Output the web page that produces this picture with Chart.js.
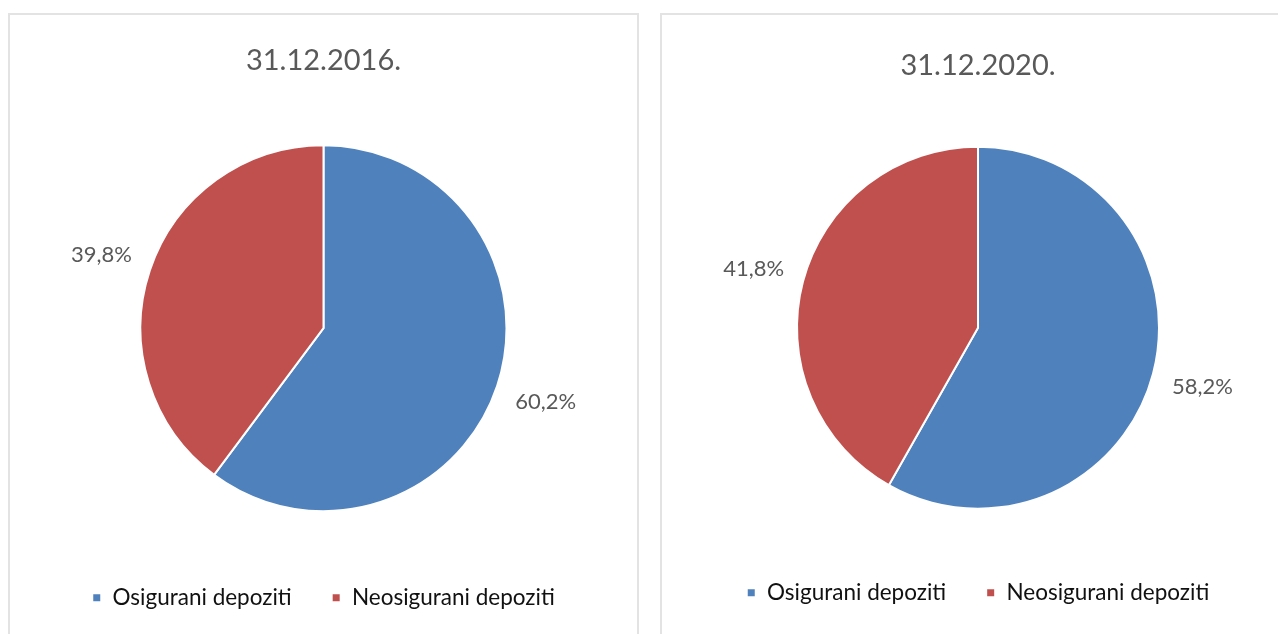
<!DOCTYPE html>
<html>
<head>
<meta charset="utf-8">
<script src="https://cdn.jsdelivr.net/npm/chart.js@4"></script>
<style>
  html, body { margin: 0; padding: 0; background: #fff; overflow: hidden; }
  body { width: 1278px; height: 634px; position: relative; }
  .panel { position: absolute; top: 13px; border: 2px solid #e3e3e3; border-bottom: none; background: #fff; }
  #p1 { left: 8px; width: 627px; height: 640px; }
  #p2 { left: 660px; width: 632px; height: 640px; }
  canvas { display: block; }
</style>
</head>
<body>
<div class="panel" id="p1"><canvas id="pie2016" width="627" height="619"></canvas></div>
<div class="panel" id="p2"><canvas id="pie2020" width="632" height="619"></canvas></div>
<script>
// kategorije i vrijednosti (u %)
const kategorije = ['Osigurani depoziti', 'Neosigurani depoziti'];
const udjeli2016 = [60.2, 39.8];
const udjeli2020 = [58.2, 41.8];
const naslovi = ['31.12.2016.', '31.12.2020.'];

const plava = '#4F81BD';
const crvena = '#C0504D';
const font = 'Lato, "Liberation Sans", sans-serif';

// ispis postotaka izvan kriški
const postociPlugin = {
    id: 'postoci',
    afterDatasetsDraw(chart) {
        const ctx = chart.ctx;
        const meta = chart.getDatasetMeta(0);
        const vrijednosti = chart.data.datasets[0].data;
        ctx.save();
        ctx.font = '22px ' + font;
        ctx.fillStyle = '#595959';
        ctx.textAlign = 'center';
        ctx.textBaseline = 'middle';
        meta.data.forEach((arc, i) => {
            const p = arc.getProps(['x', 'y', 'startAngle', 'endAngle', 'outerRadius'], true);
            const kut = (p.startAngle + p.endAngle) / 2;
            const r = p.outerRadius + 51;
            const txt = vrijednosti[i].toFixed(1).replace('.', ',') + '%';
            ctx.fillText(txt, p.x + Math.cos(kut) * r, p.y + Math.sin(kut) * r);
        });
        ctx.restore();
    }
};

function napraviPitu(id, naslov, podaci, radijus, titlePad, legendBottom) {
    new Chart(document.getElementById(id), {
        type: 'pie',
        data: {
            labels: kategorije,
            datasets: [{
                data: podaci,
                backgroundColor: [plava, crvena],
                borderColor: '#fff',
                borderWidth: 2,
                radius: radijus,
                hoverOffset: 0
            }]
        },
        options: {
            responsive: false,
            animation: false,
            layout: { padding: { bottom: legendBottom } },
            plugins: {
                title: {
                    display: true,
                    text: naslov,
                    color: '#595959',
                    font: { family: font, size: 29, weight: 'normal' },
                    padding: titlePad
                },
                legend: {
                    position: 'bottom',
                    labels: {
                        color: '#111',
                        font: { family: font, size: 22.5 },
                        boxWidth: 9,
                        boxHeight: 9,
                        padding: 40
                    }
                },
                tooltip: { enabled: false }
            }
        },
        plugins: [postociPlugin]
    });
}

napraviPitu('pie2016', naslovi[0], udjeli2016, 183, { top: 28, bottom: 32 }, 15);
napraviPitu('pie2020', naslovi[1], udjeli2020, 181, { top: 33, bottom: 31 }, 20);
</script>
</body>
</html>
